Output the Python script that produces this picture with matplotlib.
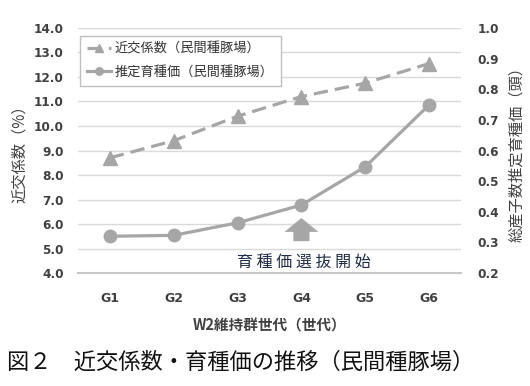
import matplotlib
matplotlib.use('Agg')
import matplotlib.pyplot as plt

plt.rcParams['font.family'] = ['Noto Sans CJK JP', 'DejaVu Sans']

gens = ['G1', 'G2', 'G3', 'G4', 'G5', 'G6']
kinkou = [8.7, 9.4, 10.4, 11.2, 11.75, 12.55]      # 近交係数 (%)
ikushuka = [0.32, 0.323, 0.364, 0.422, 0.547, 0.749]  # 推定育種価 (頭)
left_ticks = [4.0, 5.0, 6.0, 7.0, 8.0, 9.0, 10.0, 11.0, 12.0, 13.0, 14.0]
right_ticks = [0.2, 0.3, 0.4, 0.5, 0.6, 0.7, 0.8, 0.9, 1.0]

gray = '#a6a6a6'
tick_col = '#404040'

fig = plt.figure(figsize=(5.3, 3.86), dpi=100)
ax = fig.add_axes([0.147, 0.2927, 0.723, 0.6348])
ax2 = ax.twinx()

x = list(range(len(gens)))
ax.set_xlim(-0.5, len(gens) - 0.5)
ax.set_ylim(4, 14)
ax2.set_ylim(0.2, 1.0)

ax.set_yticks(left_ticks)
ax.set_yticklabels(['%.1f' % v for v in left_ticks])
ax2.set_yticks(right_ticks)
ax2.set_yticklabels(['%.1f' % v for v in right_ticks])
ax.set_xticks(x)
ax.set_xticklabels(gens)

ax.grid(axis='y', color='#d9d9d9', lw=1.0)
ax.set_axisbelow(True)
for a in (ax, ax2):
    for s in a.spines.values():
        s.set_visible(False)
    a.tick_params(length=0, colors=tick_col, labelsize=8.7)
    for lab in a.get_yticklabels() + a.get_xticklabels():
        lab.set_fontweight('bold')
        lab.set_family(['DejaVu Sans'])
ax.spines['bottom'].set_visible(True)
ax.spines['bottom'].set_color('#c8c8c8')
ax.spines['bottom'].set_linewidth(1.5)
ax.tick_params(axis='x', pad=14, labelsize=9)
ax.tick_params(axis='y', pad=10)
ax2.tick_params(axis='y', pad=12)

l1, = ax.plot(x, kinkou, color=gray, lw=2.3, ls=(0, (4.5, 2.2)),
              marker='^', ms=9.5, label='近交係数（民間種豚場）', zorder=3)
l2, = ax2.plot(x, ikushuka, color=gray, lw=2.3, marker='o', ms=9,
               label='推定育種価（民間種豚場）', zorder=3)

ax.set_ylabel('近交係数（%）', fontsize=11, color=tick_col, labelpad=4)
ax2.set_ylabel('総産子数推定育種価（頭）', fontsize=11, color=tick_col,
               rotation=90, labelpad=6)
ax.set_xlabel('W2維持群世代（世代）', fontsize=10.5, color=tick_col,
              fontweight='bold', labelpad=9)

leg = ax2.legend(handles=[l1, l2], loc='upper left', bbox_to_anchor=(-0.005, 0.985),
                 fontsize=9.5, frameon=True, fancybox=False, edgecolor='#bfbfbf',
                 framealpha=1, handlelength=1.8, handletextpad=0.25, markerscale=0.6,
                 borderpad=0.55, labelspacing=0.75, borderaxespad=0.3)
leg.get_frame().set_linewidth(1.0)
for t in leg.get_texts():
    t.set_color('#333333')

# 選抜開始の矢印
ax.annotate('', xy=(3, 6.245), xytext=(3, 5.3),
            arrowprops=dict(arrowstyle='simple,head_width=1.22,head_length=0.5,tail_width=0.58',
                            mutation_scale=20, color=gray, lw=0,
                            shrinkA=0, shrinkB=0))
ax.text(3.04, 4.42, '育 種 価 選 抜 開 始', ha='center', va='center',
        fontsize=11.5, color='#1f2a44')

fig.text(0.013, 0.062, '図２　近交係数・育種価の推移（民間種豚場）',
         fontsize=16, color='#111111', ha='left', va='center')

fig.savefig('out.png', dpi=100)
